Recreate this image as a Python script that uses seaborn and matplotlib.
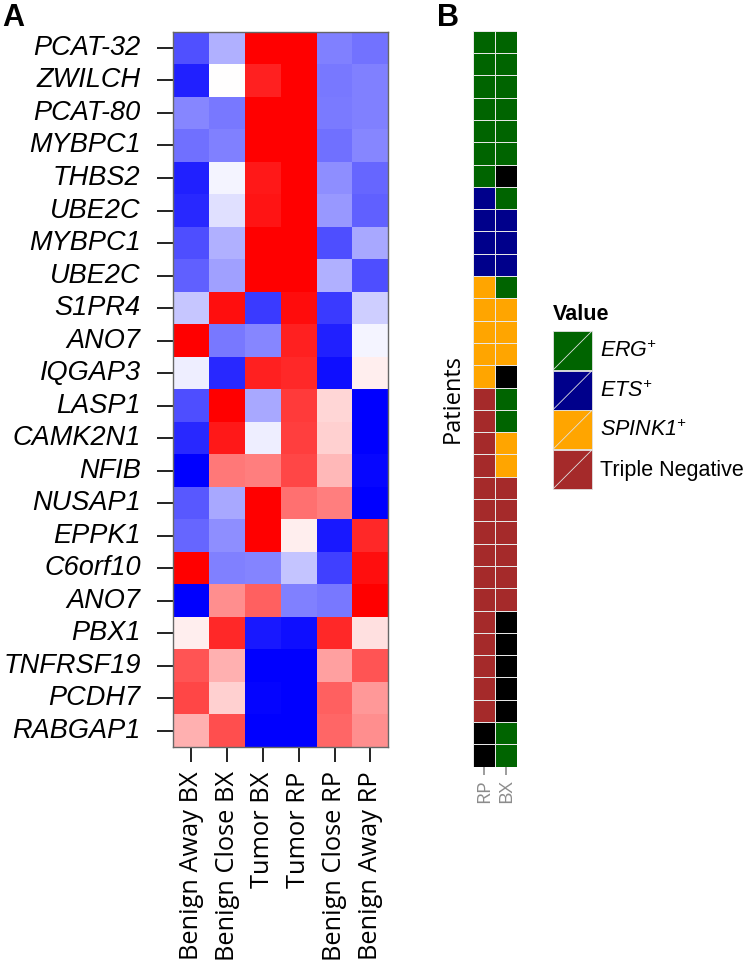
import numpy as np
import pandas as pd
import matplotlib
matplotlib.use("Agg")
import matplotlib.pyplot as plt
import seaborn as sns
from matplotlib.colors import ListedColormap
from matplotlib.patches import Patch, Rectangle
from matplotlib.lines import Line2D
from matplotlib.legend_handler import HandlerPatch

# ---------------- data ----------------
genes = ["PCAT-32", "ZWILCH", "PCAT-80", "MYBPC1", "THBS2", "UBE2C", "MYBPC1",
         "UBE2C", "S1PR4", "ANO7", "IQGAP3", "LASP1", "CAMK2N1", "NFIB",
         "NUSAP1", "EPPK1", "C6orf10", "ANO7", "PBX1", "TNFRSF19", "PCDH7",
         "RABGAP1"]
samples = ["Benign Away BX", "Benign Close BX", "Tumor BX", "Tumor RP",
           "Benign Close RP", "Benign Away RP"]

benign_away_bx = [-0.68, -0.87, -0.47, -0.56, -0.87, -0.84, -0.69, -0.62, -0.22, 1.00, -0.07,
                  -0.69, -0.84, -1.00, -0.65, -0.60, 1.00, -1.00, 0.07, 0.67, 0.72, 0.31]
benign_close_bx = [-0.31, 0.00, -0.53, -0.50, -0.04, -0.12, -0.31, -0.37, 0.94, -0.53, -0.84,
                   1.00, 0.90, 0.53, -0.34, -0.44, -0.50, 0.44, 0.84, 0.31, 0.18, 0.69]
tumor_bx = [1.00, 0.87, 1.00, 1.00, 0.90, 0.92, 1.00, 1.00, -0.77, -0.47, 0.87,
            -0.34, -0.07, 0.50, 1.00, 1.00, -0.48, 0.62, -0.90, -1.00, -0.98, -1.00]
tumor_rp = [1.00, 1.00, 1.00, 1.00, 1.00, 1.00, 1.00, 1.00, 0.95, 0.87, 0.84,
            0.77, 0.75, 0.72, 0.56, 0.07, -0.23, -0.50, -0.94, -1.00, -1.00, -1.00]
benign_close_rp = [-0.50, -0.53, -0.52, -0.56, -0.44, -0.40, -0.69, -0.31, -0.77, -0.87, -0.94,
                   0.16, 0.18, 0.28, 0.50, -0.90, -0.75, -0.53, 0.84, 0.37, 0.62, 0.60]
benign_away_rp = [-0.55, -0.50, -0.50, -0.47, -0.60, -0.62, -0.34, -0.69, -0.19, -0.04, 0.07,
                  -1.00, -1.00, -0.97, -1.00, 0.84, 0.94, 1.00, 0.12, 0.67, 0.40, 0.44]

# patient subtype calls (NA = not available, drawn black)
rp_calls = (["ERG"] * 7 + ["ETS"] * 4 + ["SPINK1"] * 5 + ["TN"] * 15 + ["NA"] * 2)
bx_calls = (["ERG"] * 6 + ["NA"] + ["ERG"] + ["ETS"] * 3 + ["ERG"] + ["SPINK1"] * 3 +
            ["NA"] + ["ERG"] * 2 + ["SPINK1"] * 2 + ["TN"] * 6 + ["NA"] * 5 + ["ERG"] * 2)
patient_cols = ["RP", "BX"]
categories = ["ERG", "ETS", "SPINK1", "TN", "NA"]
cat_colors = ["#006400", "#00008B", "#FFA500", "#A52A2A", "#000000"]
legend_labels = [r"$\mathrm{ERG}^{+}$", r"$\mathrm{ETS}^{+}$", r"$\mathrm{SPINK1}^{+}$",
                 "Triple Negative"]
legend_title = "Value"

# ---------------- style ----------------
sns.set_theme(style="white")
plt.rcParams["font.family"] = ["Liberation Sans", "DejaVu Sans"]
plt.rcParams["text.color"] = "black"
plt.rcParams["axes.labelcolor"] = "black"
plt.rcParams["xtick.color"] = "black"
plt.rcParams["ytick.color"] = "black"
plt.rcParams["mathtext.fontset"] = "custom"
plt.rcParams["mathtext.it"] = "Liberation Sans:italic"
plt.rcParams["mathtext.rm"] = "Liberation Sans:italic"
plt.rcParams["mathtext.bf"] = "Liberation Sans:bold"

W, H = 747, 967
fig = plt.figure(figsize=(W / 100, H / 100), dpi=100)

def ax_rect(x0, y0, x1, y1):
    return [x0 / W, 1 - y1 / H, (x1 - x0) / W, (y1 - y0) / H]

# ---------------- panel A ----------------
axA = fig.add_axes(ax_rect(173.3, 31.7, 388.3, 747))
mat = pd.DataFrame(
    np.column_stack([benign_away_bx, benign_close_bx, tumor_bx, tumor_rp,
                     benign_close_rp, benign_away_rp]),
    columns=samples)
sns.heatmap(mat, cmap="bwr", vmin=-1, vmax=1, cbar=False, ax=axA,
            xticklabels=samples, yticklabels=genes)
axA.set_yticklabels(genes, rotation=0, fontstyle="italic", fontsize=19.5,
                    family=["Liberation Sans", "DejaVu Sans"], color="black")
axA.set_xticklabels(samples, rotation=90, fontsize=18.3,
                    family=["Open Sans", "DejaVu Sans"], color="black")
axA.tick_params(axis="y", left=True, length=11.5, width=1.3, pad=12, color="#111111")
axA.tick_params(axis="x", bottom=True, length=10.5, width=1.3, pad=7, color="#111111")
for s in axA.spines.values():
    s.set_visible(True)
    s.set_color("#666666")
    s.set_linewidth(1.0)
axA.set_xlabel("")
axA.set_ylabel("")

# ---------------- panel B ----------------
axB = fig.add_axes(ax_rect(473.3, 30.7, 517.3, 766.7))
codes = pd.DataFrame({"RP": [categories.index(c) for c in rp_calls],
                      "BX": [categories.index(c) for c in bx_calls]})
sns.heatmap(codes, cmap=ListedColormap(cat_colors), vmin=-0.5, vmax=len(categories) - 0.5,
            cbar=False, ax=axB, linewidths=0.5, linecolor="#e6e6e6",
            xticklabels=patient_cols, yticklabels=False)
axB.set_xticklabels(patient_cols, rotation=90, fontsize=14, color="#8c8c8c",
                    family=["Open Sans", "DejaVu Sans"])
axB.tick_params(axis="x", bottom=True, length=6, width=1.2, pad=3, color="#8c8c8c")
axB.set_ylabel("Patients", fontsize=17, family=["Open Sans", "DejaVu Sans"],
               labelpad=6, color="black")
axB.set_xlabel("")

# legend with diagonal key lines (ggplot2 style)
class HandlerDiag(HandlerPatch):
    def create_artists(self, legend, orig_handle, xdescent, ydescent, width, height,
                       fontsize, trans):
        r = Rectangle((-xdescent, -ydescent), width, height,
                      facecolor=orig_handle.get_facecolor(), edgecolor="#e0e0e0",
                      linewidth=0.6, transform=trans)
        ln = Line2D([-xdescent, -xdescent + width], [-ydescent, -ydescent + height],
                    color="#e0e0e0", linewidth=0.6, transform=trans)
        return [r, ln]

handles = [Patch(facecolor=c) for c in cat_colors[:4]]
leg = fig.legend(handles, legend_labels, loc="upper left",
                 bbox_to_anchor=(553 / W, 1 - 331 / H), frameon=False,
                 fontsize=15.5, handler_map={Patch: HandlerDiag()},
                 handlelength=1.81, handleheight=2.41, labelspacing=0.03,
                 handletextpad=0.37, borderpad=0, borderaxespad=0)
fig.text(553 / W, 1 - 314 / H, legend_title, fontsize=15.5, fontweight="bold",
         va="center", ha="left")

# panel letters
fig.text(2 / W, 1 - 3 / H, "A", fontsize=22, fontweight="bold", va="top", ha="left")
fig.text(437 / W, 1 - 3 / H, "B", fontsize=22, fontweight="bold", va="top", ha="left")

fig.savefig("out.png", dpi=100)
